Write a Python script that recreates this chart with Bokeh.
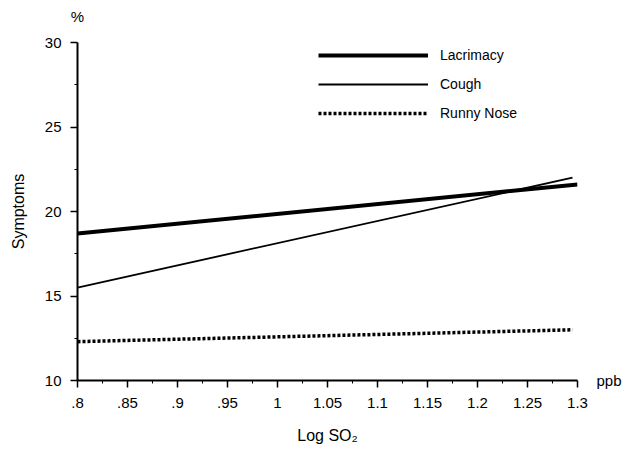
from bokeh.plotting import figure
from bokeh.models import FixedTicker, Range1d, Legend, LinearAxis
from bokeh.embed import file_html
from bokeh.resources import INLINE

# Data
lac_x = [0.8, 1.3]
lac_y = [18.7, 21.6]
cough_x = [0.8, 1.295]
cough_y = [15.5, 22.0]
runny_x = [0.8, 1.295]
runny_y = [12.3, 13.0]

x_ticks = [0.8, 0.85, 0.9, 0.95, 1.0, 1.05, 1.1, 1.15, 1.2, 1.25, 1.3]
x_tick_labels = [".8", ".85", ".9", ".95", "1", "1.05", "1.1", "1.15", "1.2", "1.25", "1.3"]
x_minor = [0.825, 0.875, 0.925, 0.975, 1.025, 1.075, 1.125, 1.175, 1.225, 1.275]
y_ticks = [10, 15, 20, 25, 30]
y_minor = [12.5, 17.5, 22.5, 27.5]

FONT = "Liberation Sans"

p = figure(width=624, height=450, output_backend="svg", toolbar_location=None,
           x_range=Range1d(0.8, 1.3), y_range=Range1d(10, 30),
           min_border_left=77, min_border_right=46, min_border_top=42, min_border_bottom=70)
p.outline_line_color = None
p.xgrid.visible = False
p.ygrid.visible = False
p.background_fill_color = "white"

r1 = p.line(lac_x, lac_y, line_width=4, line_color="black")
r2 = p.line(cough_x, cough_y, line_width=1.8, line_color="black")
r3 = p.line(runny_x, runny_y, line_width=3.5, line_color="black", line_dash="3 2")

legend = Legend(items=[("Lacrimacy", [r1]), ("Cough", [r2]), ("Runny Nose", [r3])],
                location=(241, 257))
legend.border_line_color = None
legend.background_fill_alpha = 0
legend.padding = 0
legend.margin = 0
legend.spacing = 9
legend.glyph_width = 110
legend.glyph_height = 20
legend.label_height = 20
legend.label_standoff = 12
legend.label_text_font = FONT
legend.label_text_font_size = "14px"
legend.label_text_color = "black"
p.add_layout(legend, "center")

xa = p.xaxis[0]
xa.ticker = FixedTicker(ticks=x_ticks, minor_ticks=x_minor)
xa.major_label_overrides = {t: l for t, l in zip(x_ticks, x_tick_labels)}
ya = p.yaxis[0]
ya.ticker = FixedTicker(ticks=y_ticks, minor_ticks=y_minor)

for ax in (xa, ya):
    ax.axis_line_width = 2
    ax.axis_line_color = "black"
    ax.major_tick_line_width = 1.5
    ax.major_tick_line_color = "black"
    ax.minor_tick_line_color = "black"
    ax.minor_tick_line_width = 1
    ax.major_tick_in = 0
    ax.major_tick_out = 7
    ax.minor_tick_in = 0
    ax.minor_tick_out = 3
    ax.major_label_text_font = FONT
    ax.major_label_text_font_size = "15px"
    ax.major_label_text_color = "black"

xa.major_label_standoff = 10
ya.major_label_standoff = 9
ya.axis_label = "Symptoms"
ya.axis_label_text_font = FONT
ya.axis_label_text_font_size = "16px"
ya.axis_label_text_font_style = "normal"
ya.axis_label_text_color = "black"
ya.axis_label_standoff = 15

xa.axis_label = "Log SO\u2082"
xa.axis_label_text_font = FONT
xa.axis_label_text_font_size = "16px"
xa.axis_label_text_font_style = "normal"
xa.axis_label_text_color = "black"
xa.axis_label_standoff = 16

# unit labels: "%" above the y axis, "ppb" right of the x axis
top_ax = LinearAxis(ticker=FixedTicker(ticks=[0.8], minor_ticks=[]),
                    major_label_overrides={0.8: "%"})
right_ax = LinearAxis(ticker=FixedTicker(ticks=[10], minor_ticks=[]),
                      major_label_overrides={10: "ppb"})
for ax, standoff in ((top_ax, 18), (right_ax, 19)):
    ax.axis_line_color = None
    ax.major_tick_line_color = None
    ax.minor_tick_line_color = None
    ax.major_tick_in = 0
    ax.major_tick_out = 0
    ax.major_label_standoff = standoff
    ax.major_label_text_font = FONT
    ax.major_label_text_font_size = "15px"
    ax.major_label_text_color = "black"
p.add_layout(top_ax, "above")
p.add_layout(right_ax, "right")

open("out.html", "w").write(file_html(p, INLINE))
